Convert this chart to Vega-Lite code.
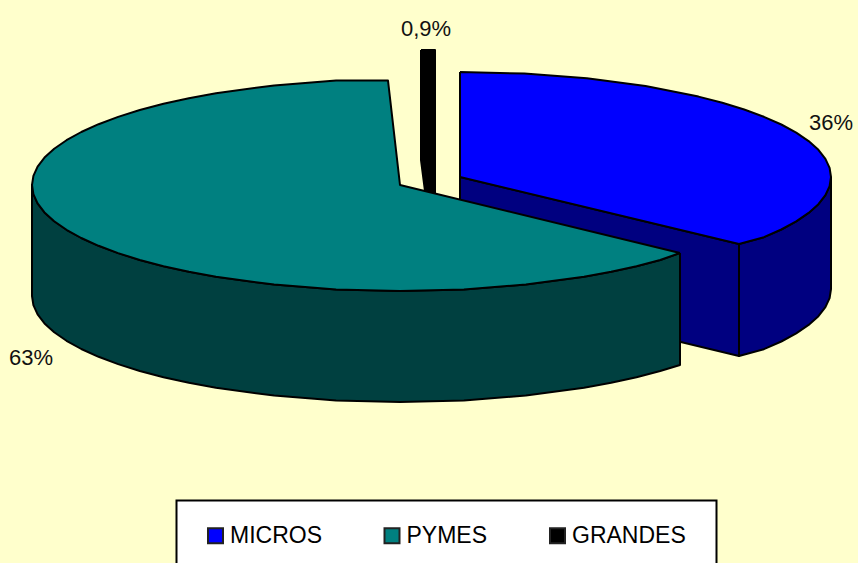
{"$schema":"https://vega.github.io/schema/vega-lite/v6.json","width":858,"height":563,"padding":0,"autosize":{"type":"fit","contains":"padding"},"background":"#FFFFCC","view":{"stroke":null},
"datasets":{
"walls":[
{"part":"m_inner","segment":"MICROS","seq":1,"x":460,"y":177},{"part":"m_inner","segment":"MICROS","seq":2,"x":739,"y":244},{"part":"m_inner","segment":"MICROS","seq":3,"x":739,"y":356},{"part":"m_inner","segment":"MICROS","seq":4,"x":460,"y":289},{"part":"m_inner","segment":"MICROS","seq":5,"x":460,"y":177},
{"part":"m_outer","segment":"MICROS","seq":1,"x":831,"y":177},{"part":"m_outer","segment":"MICROS","seq":1.5,"x":829.6,"y":186.2},{"part":"m_outer","segment":"MICROS","seq":2,"x":825.4,"y":195.2},{"part":"m_outer","segment":"MICROS","seq":2.5,"x":818.4,"y":204.2},{"part":"m_outer","segment":"MICROS","seq":3,"x":808.6,"y":212.9},{"part":"m_outer","segment":"MICROS","seq":3.5,"x":796.2,"y":221.4},{"part":"m_outer","segment":"MICROS","seq":4,"x":781.3,"y":229.5},{"part":"m_outer","segment":"MICROS","seq":4.5,"x":763.9,"y":237.2},{"part":"m_outer","segment":"MICROS","seq":5,"x":739,"y":244},{"part":"m_outer","segment":"MICROS","seq":6,"x":739,"y":356},{"part":"m_outer","segment":"MICROS","seq":6.5,"x":763.9,"y":349.2},{"part":"m_outer","segment":"MICROS","seq":7,"x":781.3,"y":341.5},{"part":"m_outer","segment":"MICROS","seq":7.5,"x":796.2,"y":333.4},{"part":"m_outer","segment":"MICROS","seq":8,"x":808.6,"y":324.9},{"part":"m_outer","segment":"MICROS","seq":8.5,"x":818.4,"y":316.2},{"part":"m_outer","segment":"MICROS","seq":9,"x":825.4,"y":307.2},{"part":"m_outer","segment":"MICROS","seq":9.5,"x":829.6,"y":298.2},{"part":"m_outer","segment":"MICROS","seq":10,"x":831,"y":289},{"part":"m_outer","segment":"MICROS","seq":11,"x":831,"y":177},
{"part":"p_outer","segment":"PYMES","seq":1,"x":680,"y":253},{"part":"p_outer","segment":"PYMES","seq":1.5,"x":660.2,"y":260},{"part":"p_outer","segment":"PYMES","seq":2,"x":636.5,"y":266.2},{"part":"p_outer","segment":"PYMES","seq":2.5,"x":611.1,"y":271.8},{"part":"p_outer","segment":"PYMES","seq":3,"x":584,"y":276.8},{"part":"p_outer","segment":"PYMES","seq":4,"x":525.9,"y":284.6},{"part":"p_outer","segment":"PYMES","seq":5,"x":463.9,"y":289.4},{"part":"p_outer","segment":"PYMES","seq":6,"x":400,"y":291},{"part":"p_outer","segment":"PYMES","seq":7,"x":336.1,"y":289.4},{"part":"p_outer","segment":"PYMES","seq":8,"x":274.1,"y":284.6},{"part":"p_outer","segment":"PYMES","seq":9,"x":216,"y":276.8},{"part":"p_outer","segment":"PYMES","seq":9.5,"x":188.9,"y":271.8},{"part":"p_outer","segment":"PYMES","seq":10,"x":163.5,"y":266.2},{"part":"p_outer","segment":"PYMES","seq":10.5,"x":139.8,"y":260},{"part":"p_outer","segment":"PYMES","seq":11,"x":118.1,"y":253.1},{"part":"p_outer","segment":"PYMES","seq":11.5,"x":98.6,"y":245.8},{"part":"p_outer","segment":"PYMES","seq":12,"x":81.3,"y":238},{"part":"p_outer","segment":"PYMES","seq":12.5,"x":66.5,"y":229.8},{"part":"p_outer","segment":"PYMES","seq":13,"x":54.2,"y":221.3},{"part":"p_outer","segment":"PYMES","seq":13.5,"x":44.5,"y":212.4},{"part":"p_outer","segment":"PYMES","seq":14,"x":37.6,"y":203.4},{"part":"p_outer","segment":"PYMES","seq":14.5,"x":33.4,"y":194.2},{"part":"p_outer","segment":"PYMES","seq":15,"x":32,"y":185},{"part":"p_outer","segment":"PYMES","seq":16,"x":32,"y":296},{"part":"p_outer","segment":"PYMES","seq":16.5,"x":33.4,"y":305.2},{"part":"p_outer","segment":"PYMES","seq":17,"x":37.6,"y":314.4},{"part":"p_outer","segment":"PYMES","seq":17.5,"x":44.5,"y":323.4},{"part":"p_outer","segment":"PYMES","seq":18,"x":54.2,"y":332.3},{"part":"p_outer","segment":"PYMES","seq":18.5,"x":66.5,"y":340.8},{"part":"p_outer","segment":"PYMES","seq":19,"x":81.3,"y":349},{"part":"p_outer","segment":"PYMES","seq":19.5,"x":98.6,"y":356.8},{"part":"p_outer","segment":"PYMES","seq":20,"x":118.1,"y":364.1},{"part":"p_outer","segment":"PYMES","seq":20.5,"x":139.8,"y":371},{"part":"p_outer","segment":"PYMES","seq":21,"x":163.5,"y":377.2},{"part":"p_outer","segment":"PYMES","seq":21.5,"x":188.9,"y":382.8},{"part":"p_outer","segment":"PYMES","seq":22,"x":216,"y":387.8},{"part":"p_outer","segment":"PYMES","seq":23,"x":274.1,"y":395.6},{"part":"p_outer","segment":"PYMES","seq":24,"x":336.1,"y":400.4},{"part":"p_outer","segment":"PYMES","seq":25,"x":400,"y":402},{"part":"p_outer","segment":"PYMES","seq":26,"x":463.9,"y":400.4},{"part":"p_outer","segment":"PYMES","seq":27,"x":525.9,"y":395.6},{"part":"p_outer","segment":"PYMES","seq":28,"x":584,"y":387.8},{"part":"p_outer","segment":"PYMES","seq":28.5,"x":611.1,"y":382.8},{"part":"p_outer","segment":"PYMES","seq":29,"x":636.5,"y":377.2},{"part":"p_outer","segment":"PYMES","seq":29.5,"x":660.2,"y":371},{"part":"p_outer","segment":"PYMES","seq":30,"x":680,"y":365},{"part":"p_outer","segment":"PYMES","seq":31,"x":680,"y":253}
],
"tops":[
{"segment":"MICROS","seq":1,"x":460,"y":72},{"segment":"MICROS","seq":2,"x":524.4,"y":73.6},{"segment":"MICROS","seq":3,"x":586.9,"y":78.3},{"segment":"MICROS","seq":4,"x":645.5,"y":86.1},{"segment":"MICROS","seq":5,"x":698.5,"y":96.6},{"segment":"MICROS","seq":5.5,"x":722.3,"y":102.8},{"segment":"MICROS","seq":6,"x":744.2,"y":109.5},{"segment":"MICROS","seq":6.5,"x":763.9,"y":116.8},{"segment":"MICROS","seq":7,"x":781.3,"y":124.5},{"segment":"MICROS","seq":7.5,"x":796.2,"y":132.6},{"segment":"MICROS","seq":8,"x":808.6,"y":141.1},{"segment":"MICROS","seq":8.5,"x":818.4,"y":149.8},{"segment":"MICROS","seq":9,"x":825.4,"y":158.8},{"segment":"MICROS","seq":9.5,"x":829.6,"y":167.8},{"segment":"MICROS","seq":10,"x":831,"y":177},{"segment":"MICROS","seq":10.5,"x":829.6,"y":186.2},{"segment":"MICROS","seq":11,"x":825.4,"y":195.2},{"segment":"MICROS","seq":11.5,"x":818.4,"y":204.2},{"segment":"MICROS","seq":12,"x":808.6,"y":212.9},{"segment":"MICROS","seq":12.5,"x":796.2,"y":221.4},{"segment":"MICROS","seq":13,"x":781.3,"y":229.5},{"segment":"MICROS","seq":13.5,"x":763.9,"y":237.2},{"segment":"MICROS","seq":14,"x":739,"y":244},{"segment":"MICROS","seq":15,"x":460,"y":177},{"segment":"MICROS","seq":16,"x":460,"y":72},
{"segment":"GRANDES","seq":1,"x":421,"y":50},{"segment":"GRANDES","seq":2,"x":435,"y":50},{"segment":"GRANDES","seq":3,"x":435,"y":193},{"segment":"GRANDES","seq":4,"x":425,"y":191},{"segment":"GRANDES","seq":5,"x":421,"y":160},{"segment":"GRANDES","seq":6,"x":421,"y":50},
{"segment":"PYMES","seq":1,"x":680,"y":253},{"segment":"PYMES","seq":1.5,"x":660.2,"y":260},{"segment":"PYMES","seq":2,"x":636.5,"y":266.2},{"segment":"PYMES","seq":2.5,"x":611.1,"y":271.8},{"segment":"PYMES","seq":3,"x":584,"y":276.8},{"segment":"PYMES","seq":4,"x":525.9,"y":284.6},{"segment":"PYMES","seq":5,"x":463.9,"y":289.4},{"segment":"PYMES","seq":6,"x":400,"y":291},{"segment":"PYMES","seq":7,"x":336.1,"y":289.4},{"segment":"PYMES","seq":8,"x":274.1,"y":284.6},{"segment":"PYMES","seq":9,"x":216,"y":276.8},{"segment":"PYMES","seq":9.5,"x":188.9,"y":271.8},{"segment":"PYMES","seq":10,"x":163.5,"y":266.2},{"segment":"PYMES","seq":10.5,"x":139.8,"y":260},{"segment":"PYMES","seq":11,"x":118.1,"y":253.1},{"segment":"PYMES","seq":11.5,"x":98.6,"y":245.8},{"segment":"PYMES","seq":12,"x":81.3,"y":238},{"segment":"PYMES","seq":12.5,"x":66.5,"y":229.8},{"segment":"PYMES","seq":13,"x":54.2,"y":221.3},{"segment":"PYMES","seq":13.5,"x":44.5,"y":212.4},{"segment":"PYMES","seq":14,"x":37.6,"y":203.4},{"segment":"PYMES","seq":14.5,"x":33.4,"y":194.2},{"segment":"PYMES","seq":15,"x":32,"y":185},{"segment":"PYMES","seq":15.5,"x":33.4,"y":175.8},{"segment":"PYMES","seq":16,"x":37.6,"y":166.6},{"segment":"PYMES","seq":16.5,"x":44.5,"y":157.6},{"segment":"PYMES","seq":17,"x":54.2,"y":148.7},{"segment":"PYMES","seq":17.5,"x":66.5,"y":140.2},{"segment":"PYMES","seq":18,"x":81.3,"y":132},{"segment":"PYMES","seq":18.5,"x":98.6,"y":124.2},{"segment":"PYMES","seq":19,"x":118.1,"y":116.9},{"segment":"PYMES","seq":19.5,"x":139.8,"y":110},{"segment":"PYMES","seq":20,"x":163.5,"y":103.8},{"segment":"PYMES","seq":20.5,"x":188.9,"y":98.2},{"segment":"PYMES","seq":21,"x":216,"y":93.2},{"segment":"PYMES","seq":22,"x":274.1,"y":85.4},{"segment":"PYMES","seq":23,"x":336.1,"y":80.6},{"segment":"PYMES","seq":24,"x":388,"y":80.5},{"segment":"PYMES","seq":25,"x":400,"y":185},{"segment":"PYMES","seq":26,"x":680,"y":253}
],
"labels":[{"label":"0,9%","x":426,"y":29},{"label":"36%","x":831,"y":123},{"label":"63%","x":31,"y":358}],
"box":[{"x":176.5,"x2":716.5,"y":500.5,"y2":567}]
},
"layer":[
{"data":{"name":"walls"},"mark":{"type":"line","stroke":"black","strokeWidth":2,"strokeJoin":"round"},
"encoding":{"x":{"field":"x","type":"quantitative","scale":{"domain":[0,858],"nice":false,"zero":false},"axis":null},"y":{"field":"y","type":"quantitative","scale":{"domain":[563,0],"nice":false,"zero":false},"axis":null},"detail":{"field":"part"},"order":{"field":"seq","type":"quantitative"},"fill":{"field":"segment","type":"nominal","scale":{"domain":["MICROS","PYMES"],"range":["#000080","#004040"]},"legend":null}}},
{"data":{"name":"box"},"mark":{"type":"rect","fill":"white","stroke":"black","strokeWidth":2,"clip":true},"encoding":{"x":{"field":"x","type":"quantitative","scale":{"domain":[0,858],"nice":false,"zero":false},"axis":null},"x2":{"field":"x2"},"y":{"field":"y","type":"quantitative","scale":{"domain":[563,0],"nice":false,"zero":false},"axis":null},"y2":{"field":"y2"}}},
{"data":{"name":"tops"},"mark":{"type":"line","stroke":"black","strokeWidth":2,"strokeJoin":"round"},
"encoding":{"x":{"field":"x","type":"quantitative","scale":{"domain":[0,858],"nice":false,"zero":false},"axis":null},"y":{"field":"y","type":"quantitative","scale":{"domain":[563,0],"nice":false,"zero":false},"axis":null},"detail":{"field":"segment"},"order":{"field":"seq","type":"quantitative"},"fill":{"field":"segment","type":"nominal","scale":{"domain":["MICROS","PYMES","GRANDES"],"range":["#0000FF","#008080","#000000"]},"legend":{"orient":"none","legendX":204,"legendY":524,"direction":"horizontal","columns":3,"title":null,"symbolType":"square","symbolSize":225,"symbolStrokeColor":"#222222","symbolStrokeWidth":2,"labelFont":"Liberation Sans","labelFontSize":23,"labelColor":"#000000","columnPadding":58.5,"labelOffset":3,"padding":0}}}},
{"data":{"name":"labels"},"mark":{"type":"text","font":"Liberation Sans","fontSize":22,"color":"#111111","align":"center","baseline":"middle"},"encoding":{"x":{"field":"x","type":"quantitative","scale":{"domain":[0,858],"nice":false,"zero":false},"axis":null},"y":{"field":"y","type":"quantitative","scale":{"domain":[563,0],"nice":false,"zero":false},"axis":null},"text":{"field":"label"}}}
],
"resolve":{"scale":{"fill":"independent"}}
}
